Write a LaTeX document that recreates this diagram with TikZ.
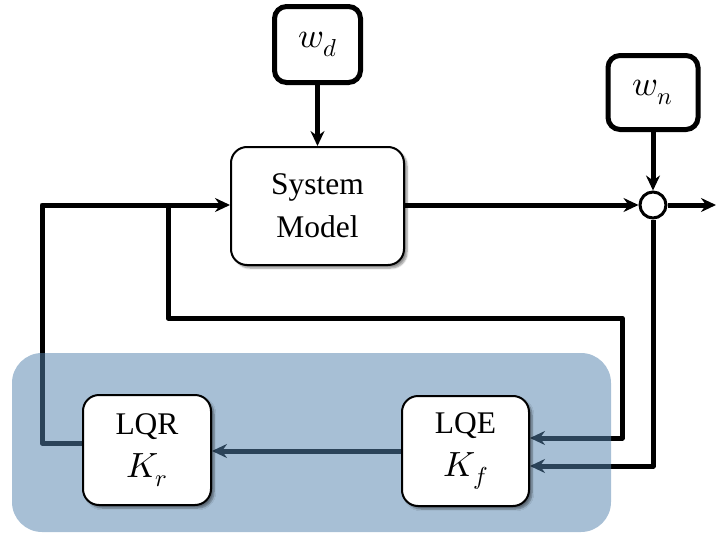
\documentclass[tikz,border=0pt]{standalone}
\usepackage{fontspec}
\usepackage{unicode-math}
\setmainfont{Liberation Serif}
\setmathfont{Latin Modern Math}
\usetikzlibrary{arrows.meta,shadows.blur,calc}
\definecolor{panelblue}{RGB}{84,131,174}
\pgfdeclarelayer{lines}
\pgfdeclarelayer{panel}
\pgfsetlayers{lines,panel,main}
\newcommand{\bigmath}[1]{{\fontsize{35}{42}\selectfont$#1$}}
\begin{document}
\begin{tikzpicture}[x=1pt,y=-1pt,
  conn/.style={line width=5pt, line join=round, -{Stealth[length=15pt,width=14pt,inset=5pt]}},
  distbox/.style={draw, line width=5pt, rounded corners=12pt, fill=white, inner sep=0pt, font=\fontsize{35}{40}\selectfont},
  blockbox/.style={draw, line width=2pt, rounded corners=16pt, fill=white, align=center, inner sep=0pt,
    font=\fontsize{31.5}{43}\selectfont,
    blur shadow={shadow xshift=3pt, shadow yshift=-3pt, shadow blur steps=6, shadow opacity=45}},
  sumnode/.style={circle, draw, line width=3pt, fill=white, minimum size=26pt, inner sep=0pt},
  panelbox/.style={fill=panelblue, fill opacity=0.515, rounded corners=30pt, inner sep=0pt},
]
\useasboundingbox (0,0) rectangle (716,533);

% blocks
\node[distbox, minimum width=86pt, minimum height=76pt] (wd) at (317.5,44.5) {$w_d$};
\node[distbox, minimum width=90pt, minimum height=74pt] (wn) at (653,92.5) {$w_n$};
\node[blockbox, minimum width=173pt, minimum height=118pt] (sys) at (317.5,206) {System\\Model};
\node[sumnode] (sum) at (653,205) {};
\node[blockbox, minimum width=128pt, minimum height=110pt] (lqr) at (147,450) {LQR\\\bigmath{K_r}};
\node[blockbox, minimum width=127pt, minimum height=110pt] (lqe) at (465.5,451) {LQE\\\bigmath{K_f}};

\coordinate (jL) at (42,205);
\coordinate (jM) at (168,205);
\coordinate (b2) at (622,318);
\coordinate (out) at (716,205);

\begin{pgfonlayer}{panel}
\node[panelbox, minimum width=599pt, minimum height=179pt] (panel) at (311.5,442.5) {};
\end{pgfonlayer}

\begin{pgfonlayer}{lines}
\draw[conn] (wd) -- (sys);
\draw[conn] (wn.south -| sum) -- (sum);
\draw[conn] (sys.east |- sum) -- (sum);
\draw[conn] (sum) -- (out);
\draw[conn] ($(lqr.west)+(0,-7)$) -| (jL) -- (sys.west |- jL);
\draw[conn] (jM) |- (b2) |- ($(lqe.east)+(0,-13)$);
\draw[conn] (sum.south) |- ($(lqe.east)+(0,15)$);
\draw[conn] (lqe.west) -- (lqr.east |- lqe.west);
\end{pgfonlayer}
\end{tikzpicture}
\end{document}
